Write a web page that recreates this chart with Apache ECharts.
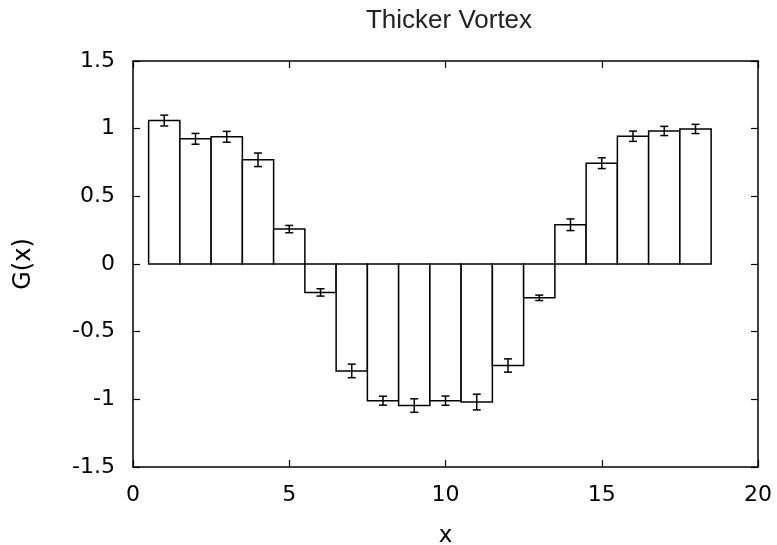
<!DOCTYPE html>
<html>
<head>
<meta charset="utf-8">
<script src="https://cdn.jsdelivr.net/npm/echarts@6/dist/echarts.min.js"></script>
<style>
  html, body { margin: 0; padding: 0; background: #fff; }
  #main { width: 777px; height: 545px; }
</style>
</head>
<body>
<div id="main"></div>
<script>
// bin centres
var xValues = [1, 2, 3, 4, 5, 6, 7, 8, 9, 10, 11, 12, 13, 14, 15, 16, 17, 18]
// G(x) per bin
var gValues = [1.06, 0.925, 0.94, 0.77, 0.258, -0.21, -0.79, -1.01, -1.046, -1.01, -1.02, -0.75, -0.25, 0.29, 0.745, 0.944, 0.983, 0.998]
// error half-widths
var gErrors = [0.04, 0.04, 0.04, 0.05, 0.027, 0.027, 0.05, 0.033, 0.05, 0.034, 0.058, 0.049, 0.02, 0.043, 0.04, 0.038, 0.034, 0.034]

var boxData = xValues.map(function (x, i) { return [x, gValues[i]] })
var errData = xValues.map(function (x, i) { return [x, gValues[i] - gErrors[i], gValues[i] + gErrors[i]] })

var tickFont = 'DejaVu Sans'

var chart = echarts.init(document.getElementById('main'))
chart.setOption({
  animation: false,
  backgroundColor: '#fff',
  title: {
    text: 'Thicker Vortex',
    left: 444,
    textAlign: 'center',
    top: 3,
    textStyle: { fontFamily: 'Liberation Sans', fontSize: 26, fontWeight: 'normal', color: '#222' }
  },
  grid: { left: 133, right: 19, top: 61, bottom: 78, outerBoundsMode: 'none' },
  xAxis: [
    {
      type: 'value',
      min: 0,
      max: 20,
      interval: 5,
      name: 'x',
      nameLocation: 'middle',
      nameGap: 58,
      nameTextStyle: { fontFamily: tickFont, fontSize: 23, color: '#000' },
      axisLine: { onZero: false, lineStyle: { color: '#000', width: 1.5 } },
      axisTick: { inside: true, length: 7, lineStyle: { color: '#000', width: 1.2 } },
      axisLabel: { margin: 17, fontFamily: tickFont, fontSize: 22, color: '#000' },
      splitLine: { show: false }
    },
    {
      type: 'value',
      position: 'top',
      min: 0,
      max: 20,
      interval: 5,
      axisLine: { onZero: false, lineStyle: { color: '#000', width: 1.5 } },
      axisTick: { inside: true, length: 7, lineStyle: { color: '#000', width: 1.2 } },
      axisLabel: { show: false },
      splitLine: { show: false }
    }
  ],
  yAxis: [
    {
      type: 'value',
      min: -1.5,
      max: 1.5,
      interval: 0.5,
      name: 'G(x)',
      nameLocation: 'middle',
      nameGap: 97,
      nameRotate: 90,
      nameTextStyle: { fontFamily: tickFont, fontSize: 24, color: '#000' },
      axisLine: { show: true, onZero: false, lineStyle: { color: '#000', width: 1.5 } },
      axisTick: { show: true, inside: true, length: 7, lineStyle: { color: '#000', width: 1.2 } },
      axisLabel: { margin: 18, fontFamily: tickFont, fontSize: 22, color: '#000' },
      splitLine: { show: false }
    },
    {
      type: 'value',
      position: 'right',
      min: -1.5,
      max: 1.5,
      interval: 0.5,
      axisLine: { show: true, onZero: false, lineStyle: { color: '#000', width: 1.5 } },
      axisTick: { show: true, inside: true, length: 7, lineStyle: { color: '#000', width: 1.2 } },
      axisLabel: { show: false },
      splitLine: { show: false }
    }
  ],
  series: [
    {
      // boxes, one unit wide, from zero to value
      type: 'custom',
      xAxisIndex: 0,
      yAxisIndex: 0,
      data: boxData,
      renderItem: function (params, api) {
        var x = api.value(0)
        var v = api.value(1)
        var p1 = api.coord([x - 0.5, 0])
        var p2 = api.coord([x + 0.5, v])
        return {
          type: 'rect',
          shape: {
            x: Math.min(p1[0], p2[0]),
            y: Math.min(p1[1], p2[1]),
            width: Math.abs(p2[0] - p1[0]),
            height: Math.abs(p2[1] - p1[1])
          },
          style: { fill: '#fff', stroke: '#000', lineWidth: 1.5 }
        }
      },
      z: 2
    },
    {
      // error bars with small caps
      type: 'custom',
      xAxisIndex: 0,
      yAxisIndex: 0,
      data: errData,
      renderItem: function (params, api) {
        var x = api.value(0)
        var lo = api.coord([x, api.value(1)])
        var hi = api.coord([x, api.value(2)])
        var cap = 4
        var st = { stroke: '#000', lineWidth: 1.5 }
        return {
          type: 'group',
          children: [
            { type: 'line', shape: { x1: lo[0], y1: lo[1], x2: hi[0], y2: hi[1] }, style: st },
            { type: 'line', shape: { x1: lo[0] - cap, y1: lo[1], x2: lo[0] + cap, y2: lo[1] }, style: st },
            { type: 'line', shape: { x1: hi[0] - cap, y1: hi[1], x2: hi[0] + cap, y2: hi[1] }, style: st }
          ]
        }
      },
      z: 3
    }
  ]
})
</script>
</body>
</html>
